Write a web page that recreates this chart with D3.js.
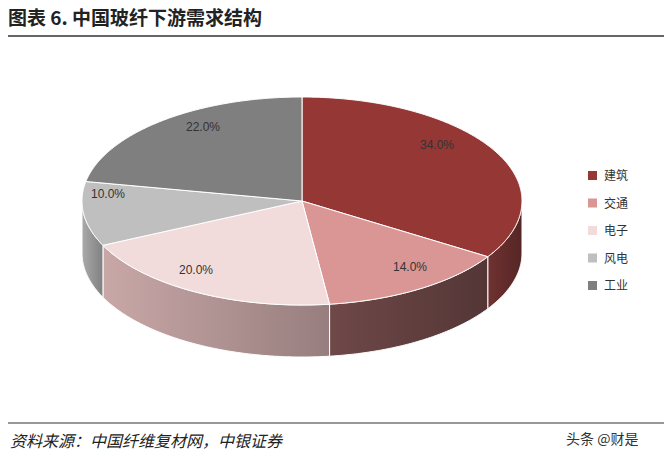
<!DOCTYPE html>
<html><head><meta charset="utf-8">
<script src="https://cdn.jsdelivr.net/npm/d3@7"></script>
<style>body{margin:0;background:#fff}text{font-family:"Liberation Sans",Arial,sans-serif}</style>
</head><body><svg id="c" width="670" height="459"></svg>
<script>
const categories = ['建筑', '交通', '电子', '风电', '工业'];
const values = [34.0, 14.0, 20.0, 10.0, 22.0];
const colors = ['#953735', '#d99694', '#f2dcdb', '#bfbfbf', '#7f7f7f'];
const sides = ['#5e2a29', '#5d3c3c', '#a88c8c', '#8e8e8e', '#5a5a5a'];
const labelPos = [[437,149],[410,271],[196,274],[108,198],[203,131]];

const svg = d3.select('#c');
const cx = 302, cy = 201, rx = 220, ry = 104, depth = 52;

svg.append('text').attr('x', 8).attr('y', 25).attr('font-size', 19).attr('font-weight', 'bold')
  .style('font-family', '"Noto Sans CJK SC"').attr('fill', '#222').text('图表 6. 中国玻纤下游需求结构');
svg.append('line').attr('x1', 8).attr('x2', 664).attr('y1', 36).attr('y2', 36).attr('stroke', '#333').attr('stroke-width', 1.5);
svg.append('line').attr('x1', 8).attr('x2', 664).attr('y1', 423).attr('y2', 423).attr('stroke', '#333').attr('stroke-width', 1.2);
svg.append('text').attr('x', 10).attr('y', 447).attr('font-size', 16).attr('font-style', 'italic')
  .style('font-family', '"Noto Sans CJK SC"').attr('fill', '#222').text('资料来源：中国纤维复材网，中银证券');
svg.append('text').attr('x', 566).attr('y', 444).attr('font-size', 14)
  .style('font-family', '"Noto Sans CJK SC"').attr('fill', '#333').text('头条 @财是');

const pie = d3.pie().sort(null).value(d => d)(values);
const pt = (a, dy = 0) => [cx + rx * Math.sin(a), cy - ry * Math.cos(a) + dy];

const defs = svg.append('defs');
// side faces (front half: angle from PI/2 to 3PI/2)
pie.forEach((p, i) => {
  const a0 = Math.max(p.startAngle, Math.PI / 2), a1 = Math.min(p.endAngle, 3 * Math.PI / 2);
  if (a1 <= a0) return;
  const g = defs.append('linearGradient').attr('id', 'g' + i);
  g.append('stop').attr('offset', 0).attr('stop-color', d3.color(sides[i]).brighter(0.5));
  g.append('stop').attr('offset', 1).attr('stop-color', d3.color(sides[i]).darker(0.3));
  const top = d3.range(a0, a1, 0.01).concat([a1]).map(a => pt(a));
  const bot = top.slice().reverse().map(([x, y]) => [x, y + depth]);
  svg.append('path').attr('d', 'M' + top.concat(bot).map(q => q.join(',')).join('L') + 'Z')
    .attr('fill', `url(#g${i})`).attr('stroke', '#fff').attr('stroke-width', 1);
});
// top faces
pie.forEach((p, i) => {
  const arc = d3.range(p.startAngle, p.endAngle, 0.01).concat([p.endAngle]).map(a => pt(a));
  svg.append('path').attr('d', `M${cx},${cy}L` + arc.map(q => q.join(',')).join('L') + 'Z')
    .attr('fill', colors[i]).attr('stroke', '#fff').attr('stroke-width', 1);
  svg.append('text').attr('x', labelPos[i][0]).attr('y', labelPos[i][1]).attr('text-anchor', 'middle')
    .attr('font-size', 12).attr('fill', '#333').text(values[i].toFixed(1) + '%');
});

const leg = svg.append('g').selectAll('g').data(categories).join('g')
  .attr('transform', (d, i) => `translate(588,${171 + i * 27.5})`);
leg.append('rect').attr('width', 9).attr('height', 9).attr('fill', (d, i) => colors[i]);
leg.append('text').attr('x', 16).attr('y', 9).attr('font-size', 12).style('font-family', '"Noto Sans CJK SC"')
  .attr('fill', '#333').text(d => d);
</script></body></html>
